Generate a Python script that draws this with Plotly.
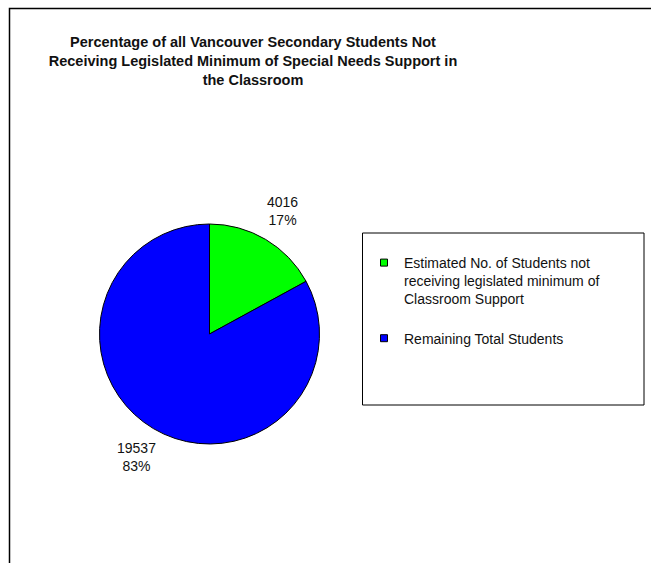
import math
import plotly.graph_objects as go

# ---- data ----
labels = [
    "Estimated No. of Students not<br>receiving legislated minimum of<br>Classroom Support",
    "Remaining Total Students",
]
values = [4016, 19537]
colors = ["#00FF00", "#0000FF"]
title_text = ("Percentage of all Vancouver Secondary Students Not<br>"
              "Receiving Legislated Minimum of Special Needs Support in<br>"
              "the Classroom")

W, H = 651, 563
FONT = "Liberation Sans, Arial, sans-serif"

fig = go.Figure()

# pie
cx, cy, r = 209.5, 334.0, 110.0
fig.add_trace(go.Pie(
    labels=labels,
    values=values,
    sort=False,
    direction="clockwise",
    rotation=0,
    marker=dict(colors=colors, line=dict(color="black", width=1)),
    textinfo="none",
    showlegend=False,
    hoverinfo="label+value+percent",
    domain=dict(x=[(cx - r) / W, (cx + r) / W],
                y=[(H - cy - r) / H, (H - cy + r) / H]),
))

# data labels placed along each slice's mid-angle, outside the pie
total = sum(values)
annotations = []
cum = 0.0
label_r = 143.0
for v in values:
    frac = v / total
    mid = (cum + frac / 2) * 2 * math.pi  # clockwise from 12 o'clock
    cum += frac
    px = cx + label_r * math.sin(mid)
    py = cy - label_r * math.cos(mid)
    annotations.append(dict(
        text=f"{v}<br>{round(frac * 100)}%",
        x=px / W, y=1 - py / H, xref="paper", yref="paper",
        xanchor="center", yanchor="middle", showarrow=False,
        font=dict(family=FONT, size=14, color="#111111"),
    ))

# legend entries (one group each so a gap can separate them)
for i, (lab, col) in enumerate(zip(labels, colors)):
    fig.add_trace(go.Scatter(
        x=[None], y=[None], mode="markers", name=lab,
        legendgroup=f"g{i}",
        marker=dict(symbol="square", size=7, color=col,
                    line=dict(color="black", width=1)),
        hoverinfo="skip",
    ))

fig.update_layout(
    width=W, height=H,
    margin=dict(l=0, r=0, t=0, b=0),
    paper_bgcolor="white",
    plot_bgcolor="white",
    font=dict(family=FONT, color="#111111"),
    xaxis=dict(visible=False),
    yaxis=dict(visible=False),
    title=dict(
        text=title_text,
        x=253 / W, xanchor="center", xref="paper",
        y=1 - 47 / H, yanchor="top", yref="container",
        font=dict(family=FONT, size=14.5, color="#111111", weight="bold"),
    ),
    annotations=annotations,
    legend=dict(
        x=364 / W, xanchor="left",
        y=1 - 247 / H, yanchor="top",
        bgcolor="rgba(0,0,0,0)",
        borderwidth=0,
        font=dict(family=FONT, size=14, color="#111111"),
        valign="top",
        tracegroupgap=18,
        traceorder="grouped",
    ),
    shapes=[
        # outer chart frame (runs off the right and bottom edges)
        dict(type="rect", xref="paper", yref="paper",
             x0=9.5 / W, x1=1.05, y0=-0.05, y1=1 - 8.5 / H,
             line=dict(color="black", width=1.5), fillcolor="rgba(0,0,0,0)",
             layer="below"),
        # legend box
        dict(type="rect", xref="paper", yref="paper",
             x0=362.5 / W, x1=644 / W, y0=1 - 405 / H, y1=1 - 233 / H,
             line=dict(color="black", width=1), fillcolor="rgba(0,0,0,0)",
             layer="below"),
    ],
)

fig.write_html("out.html")
